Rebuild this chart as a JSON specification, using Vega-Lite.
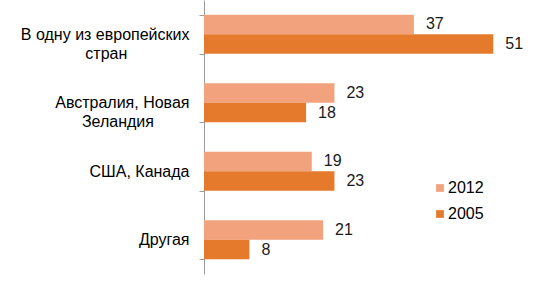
{
  "$schema": "https://vega.github.io/schema/vega-lite/v6.json",
  "width": 329,
  "height": 274,
  "autosize": {"type": "none"},
  "padding": {"left": 204, "top": 0, "right": 0, "bottom": 7},
  "config": {"view": {"stroke": null}, "font": "Liberation Sans"},
  "data": {
    "values": [
      {"cat": "В одну из европейских|стран\u00a0\u00a0\u00a0\u00a0\u00a0\u00a0\u00a0\u00a0\u00a0\u00a0\u00a0\u00a0\u00a0\u00a0\u2060", "year": "2012", "value": 37},
      {"cat": "В одну из европейских|стран\u00a0\u00a0\u00a0\u00a0\u00a0\u00a0\u00a0\u00a0\u00a0\u00a0\u00a0\u00a0\u00a0\u00a0\u2060", "year": "2005", "value": 51},
      {"cat": "Австралия, Новая|Зеландия\u00a0\u00a0\u00a0\u00a0\u00a0\u00a0\u00a0\u00a0\u2060", "year": "2012", "value": 23},
      {"cat": "Австралия, Новая|Зеландия\u00a0\u00a0\u00a0\u00a0\u00a0\u00a0\u00a0\u00a0\u2060", "year": "2005", "value": 18},
      {"cat": "США, Канада", "year": "2012", "value": 19},
      {"cat": "США, Канада", "year": "2005", "value": 23},
      {"cat": "Другая", "year": "2012", "value": 21},
      {"cat": "Другая", "year": "2005", "value": 8}
    ]
  },
  "encoding": {
    "y": {
      "field": "cat",
      "type": "nominal",
      "sort": null,
      "scale": {"paddingInner": 0.43, "paddingOuter": 0.215},
      "axis": {
        "title": null,
        "tickBand": "extent",
        "tickSize": 5,
        "labelPadding": 10,
        "labelFontSize": 16,
        "labelColor": "#000000",
        "labelLineHeight": 19,
        "labelLimit": 300,
        "domainColor": "#9a9a9a",
        "tickColor": "#9a9a9a",
        "labelExpr": "split(datum.label, '|')"
      }
    },
    "yOffset": {"field": "year", "type": "nominal", "sort": ["2012", "2005"]},
    "x": {"field": "value", "type": "quantitative", "scale": {"domain": [0, 58]}, "axis": null}
  },
  "layer": [
    {
      "mark": {"type": "bar"},
      "encoding": {
        "color": {
          "field": "year",
          "type": "nominal",
          "scale": {"domain": ["2012", "2005"], "range": ["#F2A27C", "#E57A2D"]},
          "legend": {
            "orient": "none",
            "legendX": 228,
            "legendY": 180,
            "title": null,
            "symbolType": "square",
            "symbolSize": 60,
            "symbolStrokeWidth": 0,
            "labelFontSize": 16,
            "labelColor": "#000000",
            "rowPadding": 10,
            "labelOffset": 0
          }
        }
      }
    },
    {
      "mark": {"type": "text", "align": "left", "dx": 12, "fontSize": 16, "color": "#1a1a1a"},
      "encoding": {"text": {"field": "value", "type": "quantitative"}}
    }
  ]
}
